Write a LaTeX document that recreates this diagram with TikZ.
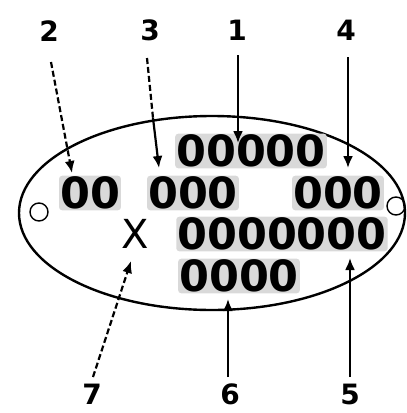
\documentclass[tikz,border=0pt]{standalone}
\usepackage{fontspec}
\newfontfamily\dvs{DejaVu Sans}
\usetikzlibrary{arrows.meta}
\begin{document}
\begin{tikzpicture}[x=1pt,y=-1pt,
  lab/.style={inner sep=0pt,font=\dvs\bfseries\fontsize{28}{28}\selectfont},
  digits/.style={inner sep=1pt,fill=gray!30,rounded corners=3pt,font=\dvs\bfseries\fontsize{43}{43}\selectfont},
  ptr/.style={line width=2.2pt,-{Latex[length=12pt,width=10pt]}},
  dsh/.style={dash pattern=on 6pt off 3pt},
  hole/.style={line width=1.4pt}]
\useasboundingbox (0,0) rectangle (407,413);
\draw[line width=2.4pt] (212,213) ellipse [x radius=193pt, y radius=97pt];
\draw[hole] (39,212) circle [radius=9pt];
\draw[hole] (396,206) circle [radius=9pt];
% texts
\node[digits] (r1) at (251,151) {00000};
\node[digits] (a) at (90,193) {00};
\node[digits] (b) at (193,193) {000};
\node[digits] (c) at (338,193) {000};
\node[inner sep=0pt,font=\dvs\fontsize{40}{40}\selectfont] (x) at (135,234) {X};
\node[digits] (d) at (282,234) {0000000};
\node[digits] (e) at (239,276) {0000};
% labels
\node[lab] (l2) at (49,31) {2};
\node[lab] (l3) at (150,30) {3};
\node[lab] (l1) at (237,30) {1};
\node[lab] (l4) at (346,30) {4};
\node[lab] (l7) at (92,394) {7};
\node[lab] (l6) at (230,394) {6};
\node[lab] (l5) at (350,394) {5};
% tips
\coordinate (s2) at (51,62);  \coordinate (t2) at (72,173);
\coordinate (s3) at (147,58); \coordinate (m3) at (153,118); \coordinate (t3) at (159,168);
\coordinate (s1) at (238,55); \coordinate (t1) at (238,143);
\coordinate (s4) at (348,57); \coordinate (t4) at (348,168);
\coordinate (s5) at (350,377); \coordinate (t5) at (350,258);
\coordinate (s6) at (228,377); \coordinate (t6) at (228,299);
\coordinate (s7) at (93,377); \coordinate (t7) at (131,261);
\draw[ptr,dsh] (s2) -- (t2);
\draw[line width=2.2pt,dsh] (s3) -- (m3);
\draw[ptr] (m3) -- (t3);
\draw[ptr] (s1) -- (t1);
\draw[ptr] (s4) -- (t4);
\draw[ptr] (s5) -- (t5);
\draw[ptr] (s6) -- (t6);
\draw[ptr,dsh] (s7) -- (t7);
\end{tikzpicture}
\end{document}
